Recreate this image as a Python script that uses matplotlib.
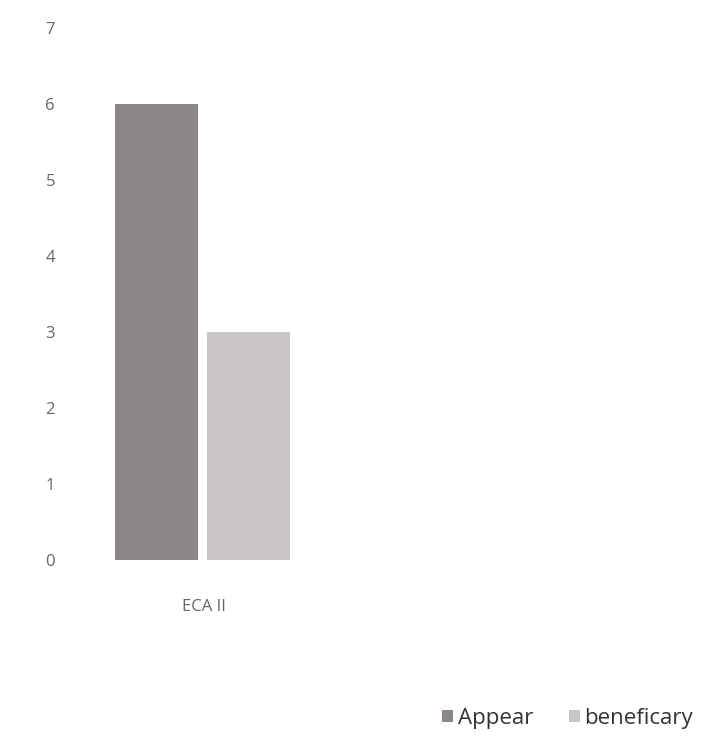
import numpy as np
import matplotlib.pyplot as plt

plt.rcParams['font.family'] = ['Open Sans', 'DejaVu Sans']

categories = ['ECA II']
series = ['Appear', 'beneficary']
values = {'Appear': [6], 'beneficary': [3]}
colors = {'Appear': '#8c8787', 'beneficary': '#c9c5c4'}

fig = plt.figure(figsize=(7.13, 7.49), dpi=100)
ax = fig.add_axes([0.12, 0.252, 0.86, 0.711])

x = np.arange(len(categories))
offsets = [-0.2, 0.19]
for name, off in zip(series, offsets):
    ax.bar(x + off, values[name], width=0.35, color=colors[name], label=name)

ax.set_ylim(0, 7)
ax.set_xlim(-0.5, 2.1)
ax.set_yticks(range(0, 8))
ax.set_xticks(x)
ax.set_xticklabels(categories)
ax.tick_params(axis='both', length=0, colors='#666666', labelsize=12)
ax.tick_params(axis='x', pad=28)
ax.tick_params(axis='y', pad=22)
for s in ax.spines.values():
    s.set_visible(False)

fig.legend(loc='lower right', bbox_to_anchor=(1.0, 0.0), ncol=2, frameon=False,
           fontsize=16, handlelength=0.5, handleheight=0.5, handletextpad=0.2,
           columnspacing=1.6, labelcolor='#333333')

fig.savefig('out.png', dpi=100)
